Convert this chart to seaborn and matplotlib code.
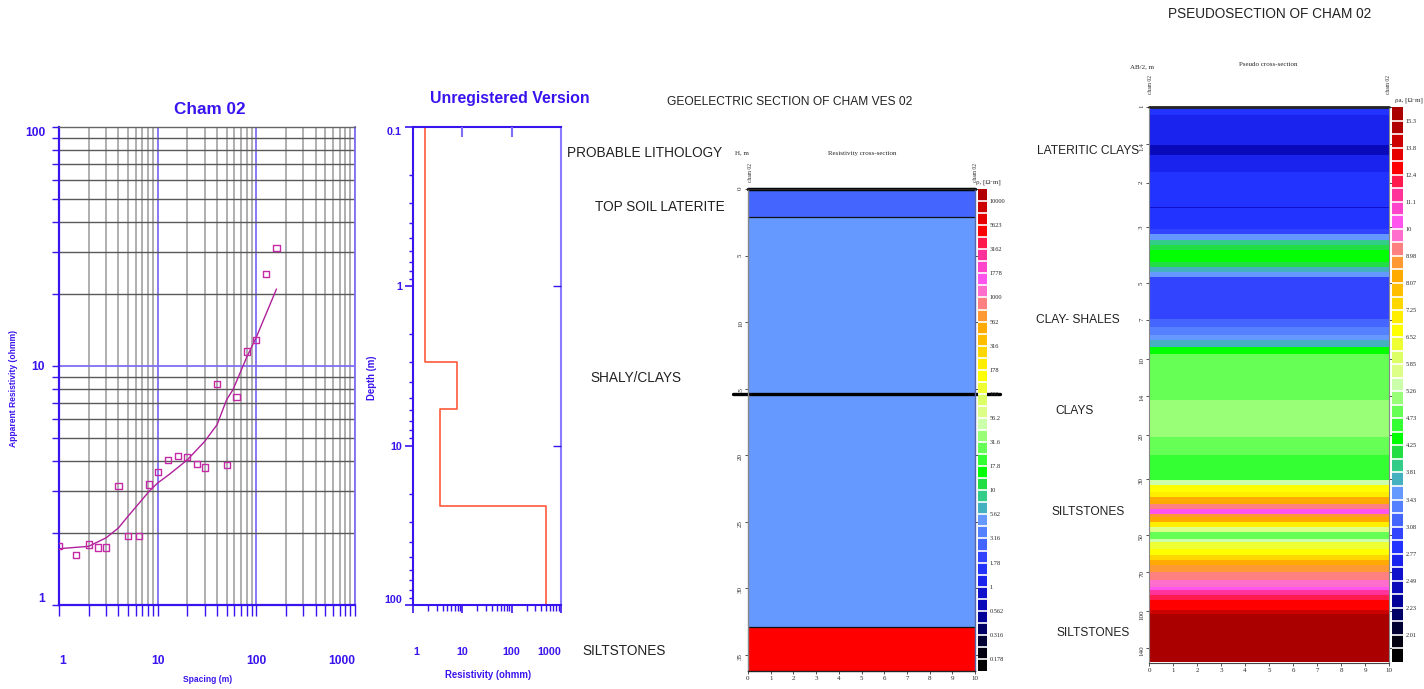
import numpy as np
import pandas as pd
import matplotlib
matplotlib.use("Agg")
import matplotlib.pyplot as plt
import seaborn as sns
from matplotlib import font_manager
from matplotlib.colors import ListedColormap, BoundaryNorm
from matplotlib.cm import ScalarMappable
from matplotlib.ticker import LogLocator, NullFormatter, NullLocator

# ---------------- data ----------------
# VES sounding, Cham 02 (spacing m, apparent resistivity ohm-m)
spacing = [1, 1.5, 2, 2.5, 3, 4, 5, 6.5, 8.2, 10, 12.8, 16, 20, 25, 30, 40, 50, 63, 80, 100, 125, 160]
app_res = [1.77, 1.62, 1.79, 1.74, 1.74, 3.14, 1.95, 1.95, 3.19, 3.59, 4.05, 4.21, 4.17, 3.88, 3.76,
           8.43, 3.84, 7.42, 11.5, 12.8, 24.3, 31.2]
fit_spacing = [1, 2, 3, 4, 5, 6.5, 8.2, 10, 13, 20, 30, 40, 50, 58, 80, 100, 160]
fit_res = [1.72, 1.76, 1.91, 2.1, 2.35, 2.67, 2.99, 3.24, 3.51, 4.05, 4.84, 5.68, 7.23, 7.96, 10.9, 13.2, 21.0]

# layered model (resistivity vs depth)
layer_res = [1.78, 7.9, 3.48, 490]
layer_top = [0.1, 3.0, 5.86, 23.9]
model_base = 100

# geoelectric section
geo_top = [0, 2.1, 32.9]
geo_base = 36.2
geo_res = [2.7, 5.0, 4800]
marker_depth = 15.4

# pseudosection bands (AB/2 edges, apparent resistivity)
pseudo_edges = [1.0, 1.08, 1.42, 1.55, 1.81, 2.49, 2.52, 3.04, 3.18, 3.38, 3.54, 3.70, 4.12, 4.31, 4.52,
                4.73, 6.92, 7.46, 8.05, 8.43, 8.96, 9.52, 14.6, 20.4, 24.1, 30.3, 31.7, 33.7, 35.3, 37.5,
                39.2, 41.1, 42.4, 44.4, 46.4, 48.6, 51.6, 53.2, 56.5, 60.1, 62.9, 65.9, 70.0, 75.5, 80.3,
                82.8, 86.6, 90.7, 99.4, 102.4, 160]
pseudo_res = [2.85, 2.70, 2.42, 2.70, 2.85, 2.56, 2.85, 3.0, 3.52, 3.91, 4.13, 4.36, 4.13, 3.71, 3.52,
              3.0, 3.16, 3.34, 3.52, 3.71, 4.36, 4.86, 5.12, 4.86, 4.6, 5.4, 6.7, 7.06, 8.29, 9.23,
              10.25, 8.74, 8.29, 7.06, 5.7, 4.86, 5.4, 6.35, 6.7, 7.45, 8.29, 8.74, 9.23, 9.74, 10.25,
              11.4, 12.05, 12.75, 14.15, 15.7]

# colour scales
geo_colors = ['#000000', '#000011', '#000033', '#000066', '#000099', '#0a0abb', '#1111cc', '#1a22ee',
              '#2233ff', '#3344ff', '#4466ff', '#5580ff', '#6699ff', '#44b0c0', '#33cc88', '#22dd44',
              '#00ff00', '#33ff33', '#66ff55', '#99ff77', '#ccffaa', '#ddff88', '#ddff66', '#eeff33',
              '#ffff00', '#ffee00', '#ffd700', '#ffbf00', '#ffaa00', '#ff9933', '#ff8080', '#ff6ecc',
              '#ff55ee', '#ff44cc', '#ff3399', '#ff1a4d', '#ff0000', '#e60000', '#cc0000', '#b00000']
pseudo_colors = geo_colors + ['#aa0000']
geo_bounds = [0.133, 0.178, 0.237, 0.316, 0.422, 0.562, 0.75, 1, 1.33, 1.78, 2.37, 3.16, 4.22, 5.62,
              7.5, 10, 13.3, 17.8, 23.7, 31.6, 42.2, 56.2, 75, 100, 133, 178, 237, 316, 422, 562, 750,
              1000, 1334, 1778, 2371, 3162, 4217, 5623, 7499, 10000, 13335]
geo_ticks = ['0.178', '0.316', '0.562', '1', '1.78', '3.16', '5.62', '10', '17.8', '31.6', '56.2', '100',
             '178', '316', '562', '1000', '1778', '3162', '5623', '10000']
pseudo_bounds = [1.7, 1.9, 2.01, 2.12, 2.23, 2.36, 2.49, 2.63, 2.77, 2.92, 3.08, 3.25, 3.43, 3.62, 3.81,
                 4.02, 4.25, 4.48, 4.73, 4.99, 5.26, 5.55, 5.85, 6.18, 6.52, 6.88, 7.25, 7.65, 8.07,
                 8.51, 8.98, 9.48, 10, 10.5, 11.1, 11.7, 12.4, 13.1, 13.8, 14.5, 15.3, 16.1]
pseudo_ticks = ['2.01', '2.23', '2.49', '2.77', '3.08', '3.43', '3.81', '4.25', '4.73', '5.26', '5.85',
                '6.52', '7.25', '8.07', '8.98', '10', '11.1', '12.4', '13.8', '15.3']
pseudo_yticks = [1, 1.4, 2, 3, 5, 7, 10, 14, 20, 30, 50, 70, 100, 140]

lith_left = ['PROBABLE LITHOLOGY', 'TOP SOIL LATERITE', 'SHALY/CLAYS', 'SILTSTONES']
lith_right = ['LATERITIC CLAYS', 'CLAY- SHALES', 'CLAYS', 'SILTSTONES', 'SILTSTONES']

# ---------------- style ----------------
sns.set_theme(style="white")
avail = {f.name for f in font_manager.fontManager.ttflist}
NARROW = 'Liberation Sans Narrow' if 'Liberation Sans Narrow' in avail else 'Liberation Sans'
K = 1.0 if NARROW == 'Liberation Sans Narrow' else 0.82
plt.rcParams['font.family'] = [NARROW, 'DejaVu Sans']
SERIF = ['Liberation Serif', 'DejaVu Serif']
BLUE = '#3a14ee'
LAV = '#7d6ef5'

W, H = 1424, 689
fig = plt.figure(figsize=(W / 100, H / 100), dpi=100)
fig.patch.set_facecolor('white')


def box(x0, y0, x1, y1):
    return [x0 / W, 1 - y1 / H, (x1 - x0) / W, (y1 - y0) / H]


def ftext(x, y, s, **kw):
    kw.setdefault('ha', 'center')
    kw.setdefault('va', 'center')
    fig.text(x / W, 1 - y / H, s, **kw)


# ---------------- panel 1: sounding curve ----------------
ax1 = fig.add_axes(box(59, 127, 355, 605))
ax1.set_xscale('log')
ax1.set_yscale('log')
ax1.set_xlim(1, 1000)
ax1.set_ylim(1, 100)
ax1.set_axisbelow(True)
for axis in (ax1.xaxis, ax1.yaxis):
    axis.set_minor_locator(LogLocator(base=10, subs=np.arange(2, 10)))
    axis.set_minor_formatter(NullFormatter())
ax1.grid(which='minor', axis='x', color='#9a9a9a', lw=1.1)
ax1.grid(which='minor', axis='y', color='#595959', lw=1.0)
ax1.grid(which='major', color=LAV, lw=1.3)

df_fit = pd.DataFrame({'spacing': fit_spacing, 'rho': fit_res})
df_obs = pd.DataFrame({'spacing': spacing, 'rho': app_res})
sns.lineplot(data=df_fit, x='spacing', y='rho', color='#b0209a', lw=1, sort=False,
             estimator=None, ax=ax1)
sns.scatterplot(data=df_obs, x='spacing', y='rho', marker='s', s=20, facecolors='none',
                edgecolor='#c42aa6', linewidth=1, ax=ax1, zorder=5)
ax1.set_xlabel('')
ax1.set_ylabel('')

ax1.set_xticks([1, 10, 100, 1000], ['1', '10', '100', '1000'])
ax1.set_yticks([1, 10, 100], ['1', '10', '100'])
ax1.tick_params(axis='x', which='both', direction='out', length=8, width=1, color=BLUE,
                bottom=True, pad=28, labelsize=10.5 * K, labelcolor=BLUE)
ax1.tick_params(axis='y', which='both', direction='out', length=5, width=1, color=BLUE,
                left=True, pad=5, labelsize=10.5 * K, labelcolor=BLUE)
for lab in ax1.get_xticklabels() + ax1.get_yticklabels():
    lab.set_fontweight('bold')
xlabs = ax1.get_xticklabels()
xlabs[0].set_ha('left')
xlabs[3].set_ha('right')
ylabs = ax1.get_yticklabels()
ylabs[0].set_va('bottom')
ylabs[2].set_va('top')
for side, col, lw in [('left', BLUE, 1.6), ('bottom', BLUE, 1.6), ('right', LAV, 1.3), ('top', '#666666', 1.0)]:
    ax1.spines[side].set_color(col)
    ax1.spines[side].set_linewidth(lw)
    ax1.spines[side].set_visible(True)

ftext(210, 110, 'Cham 02', fontsize=15 * K, fontweight='bold', color=BLUE)
ftext(208, 679, 'Spacing (m)', fontsize=7.5 * K, fontweight='bold', color=BLUE)
ftext(14, 388, 'Apparent Resistivity (ohmm)', fontsize=7.5 * K, fontweight='bold', color=BLUE,
      rotation=90)

# ---------------- panel 2: layered model ----------------
ax2 = fig.add_axes(box(413, 127, 561, 605))
step_x, step_y = [], []
for r, top, bot in zip(layer_res, layer_top, layer_top[1:] + [model_base]):
    step_x += [r, r]
    step_y += [top, bot]
sns.lineplot(x=step_x, y=step_y, sort=False, estimator=None, color='#ff5a3c', lw=1.2, ax=ax2)
ax2.set_xscale('log')
ax2.set_yscale('log')
ax2.set_xlim(1, 1000)
ax2.set_ylim(100, 0.1)
for axis in (ax2.xaxis, ax2.yaxis):
    axis.set_minor_locator(LogLocator(base=10, subs=np.arange(2, 10)))
    axis.set_minor_formatter(NullFormatter())
ax2.set_xticks([1, 10, 100, 1000], ['1', '10', '100', '1000'])
ax2.set_yticks([0.1, 1, 10, 100], ['0.1', '1', '10', '100'])
ax2.tick_params(axis='x', which='major', direction='out', length=6, width=1.2, color=BLUE,
                bottom=True, pad=24, labelsize=9.5 * K, labelcolor=BLUE)
ax2.tick_params(axis='x', which='minor', direction='out', length=4, width=1, color=BLUE, bottom=True)
ax2.tick_params(axis='y', which='major', direction='out', length=6, width=1.2, color=BLUE,
                left=True, pad=2, labelsize=9.5 * K, labelcolor=BLUE)
ax2.tick_params(axis='y', which='minor', direction='out', length=3, width=1, color=BLUE, left=True)
for lab in ax2.get_xticklabels() + ax2.get_yticklabels():
    lab.set_fontweight('bold')
xlabs = ax2.get_xticklabels()
xlabs[0].set_ha('left')
xlabs[3].set_ha('right')
ylabs = ax2.get_yticklabels()
ylabs[0].set_va('top')
ylabs[3].set_va('bottom')
ax2.set_xlabel('')
ax2.set_ylabel('')
for side in ['left', 'bottom', 'top']:
    ax2.spines[side].set_color(BLUE)
    ax2.spines[side].set_linewidth(1.5)
ax2.spines['right'].set_color('#8a7cff')
ax2.spines['right'].set_linewidth(1.5)

# inner ticks on the top and right frame
ax2t = ax2.twiny()
ax2t.set_xscale('log')
ax2t.set_xlim(1, 1000)
ax2t.xaxis.set_minor_locator(NullLocator())
ax2t.set_xticks([10, 100], ['', ''])
ax2t.tick_params(axis='x', direction='in', length=7, width=1.5, color=LAV, top=True)
ax2r = ax2.twinx()
ax2r.set_yscale('log')
ax2r.set_ylim(100, 0.1)
ax2r.yaxis.set_minor_locator(NullLocator())
ax2r.set_yticks([1, 10], ['', ''])
ax2r.tick_params(axis='y', direction='in', length=6, width=1, color=BLUE, right=True)
for a in (ax2t, ax2r):
    a.grid(False)
    for sp in a.spines.values():
        sp.set_visible(False)

ftext(510, 98, 'Unregistered Version', fontsize=14 * K, fontweight='bold', color=BLUE)
ftext(488, 675, 'Resistivity (ohmm)', fontsize=8.5 * K, fontweight='bold', color=BLUE)
ftext(372, 378, 'Depth (m)', fontsize=8.5 * K, fontweight='bold', color=BLUE, rotation=90)

# ---------------- panel 3: geoelectric section ----------------
geo_cmap = ListedColormap(geo_colors)
geo_norm = BoundaryNorm(geo_bounds, geo_cmap.N)
ax3 = fig.add_axes(box(748, 189, 975, 671))
geo_edges = geo_top + [geo_base]
ax3.pcolormesh([0, 10], geo_edges, np.array(geo_res)[:, None], cmap=geo_cmap, norm=geo_norm)
ax3.set_xlim(0, 10)
ax3.set_ylim(geo_base, 0)
for d in geo_top[1:]:
    ax3.axhline(d, color='#111111', lw=0.9)
ax3.axhline(0, color='black', lw=2.5, clip_on=False)
ax3.axhline(marker_depth, xmin=-0.068, xmax=1.11, color='black', lw=2.4, clip_on=False)
ax3.set_xticks([0, 1, 2, 3, 4, 5, 6, 7, 8, 9, 10])
ax3.set_yticks([0, 5, 10, 15, 20, 25, 30, 35])
ax3.tick_params(axis='both', direction='out', length=2, width=0.6, color='#333333', labelsize=5,
                pad=1.5, bottom=True, left=True, right=True)
ax3.tick_params(axis='y', labelrotation=90)
for lab in ax3.get_xticklabels() + ax3.get_yticklabels():
    lab.set_family(SERIF)
ax3.spines['left'].set_color('#888888')
ax3.spines['right'].set_color('#5566aa')
ax3.spines['bottom'].set_color('#222222')
for sp in ax3.spines.values():
    sp.set_linewidth(1)

cax3 = fig.add_axes(box(978, 189, 987, 671))
cb3 = fig.colorbar(ScalarMappable(norm=geo_norm, cmap=geo_cmap), cax=cax3, spacing='uniform',
                   drawedges=True)
cb3.outline.set_visible(False)
cb3.dividers.set_color('white')
cb3.dividers.set_linewidth(1.2)
cb3.minorticks_off()
cb3.set_ticks([float(t) for t in geo_ticks], labels=geo_ticks)
cax3.tick_params(which='both', length=0, labelsize=4.6, pad=2)
for lab in cax3.get_yticklabels():
    lab.set_family(SERIF)

ftext(742, 153, 'H, m', fontsize=5, family=SERIF)
ftext(862, 153, 'Resistivity cross-section', fontsize=5, family=SERIF)
ftext(750, 172, 'cham 02', fontsize=4, family=SERIF, rotation=90)
ftext(975, 172, 'cham 02', fontsize=4, family=SERIF, rotation=90)
ftext(988, 182, 'ρ, [Ω·m]', fontsize=5, family=SERIF)
ftext(790, 102, 'GEOELECTRIC SECTION OF CHAM VES 02', fontsize=10.5 * K, color='#222222')

# ---------------- panel 4: pseudosection ----------------
ps_cmap = ListedColormap(pseudo_colors)
ps_norm = BoundaryNorm(pseudo_bounds, ps_cmap.N)
ax4 = fig.add_axes(box(1149, 107, 1389, 663))
ax4.pcolormesh([0, 10], pseudo_edges, np.array(pseudo_res)[:, None], cmap=ps_cmap, norm=ps_norm)
ax4.set_yscale('log')
ax4.set_xlim(0, 10)
ax4.set_ylim(160.8, 1)
ax4.yaxis.set_minor_locator(NullLocator())
ax4.set_yticks(pseudo_yticks, [str(v) for v in pseudo_yticks])
ax4.set_xticks([0, 1, 2, 3, 4, 5, 6, 7, 8, 9, 10])
ax4.axhline(1, color='#222222', lw=2, clip_on=False)
ax4.tick_params(axis='both', direction='out', length=2, width=0.6, color='#333333', labelsize=5,
                pad=1.5, bottom=True, left=True, right=True)
ax4.tick_params(axis='y', labelrotation=90)
for lab in ax4.get_xticklabels() + ax4.get_yticklabels():
    lab.set_family(SERIF)
ax4.spines['left'].set_color('#888888')
ax4.spines['right'].set_color('#888888')
ax4.spines['bottom'].set_color('#444444')
for sp in ax4.spines.values():
    sp.set_linewidth(0.8)

cax4 = fig.add_axes(box(1392, 107, 1403, 662))
cb4 = fig.colorbar(ScalarMappable(norm=ps_norm, cmap=ps_cmap), cax=cax4, spacing='uniform',
                   drawedges=True)
cb4.outline.set_visible(False)
cb4.dividers.set_color('white')
cb4.dividers.set_linewidth(1.2)
cb4.minorticks_off()
cb4.set_ticks([float(t) for t in pseudo_ticks], labels=pseudo_ticks)
cax4.tick_params(which='both', length=0, labelsize=4.6, pad=2)
for lab in cax4.get_yticklabels():
    lab.set_family(SERIF)

ftext(1142, 67, 'AB/2, m', fontsize=5, family=SERIF)
ftext(1268, 65, 'Pseudo cross-section', fontsize=5, family=SERIF)
ftext(1151, 85, 'cham 02', fontsize=4, family=SERIF, rotation=90)
ftext(1389, 85, 'cham 02', fontsize=4, family=SERIF, rotation=90)
ftext(1409, 100, 'ρa, [Ω·m]', fontsize=5, family=SERIF)
ftext(1270, 14, 'PSEUDOSECTION OF CHAM 02', fontsize=12 * K, color='#222222')

# ---------------- lithology annotations ----------------
for s, (x, y) in zip(lith_left, [(645, 153), (660, 207), (636, 378), (624, 651)]):
    ftext(x, y, s, fontsize=12 * K, color='#222222')
for s, (x, y) in zip(lith_right, [(1088, 151), (1078, 320), (1074, 411), (1088, 512), (1093, 633)]):
    ftext(x, y, s, fontsize=10.5 * K, color='#222222')

fig.savefig('out.png', dpi=100, facecolor='white')
